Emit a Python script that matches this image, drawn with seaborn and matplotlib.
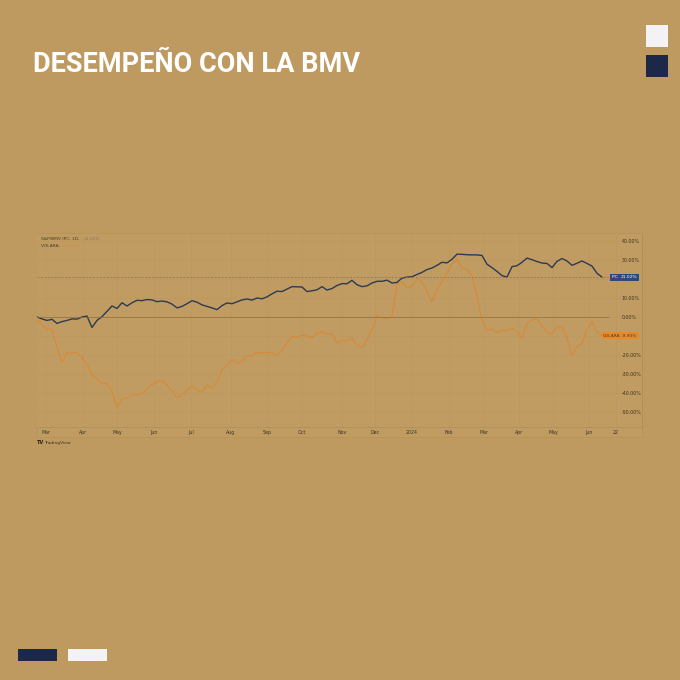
import pandas as pd
import matplotlib
matplotlib.use("Agg")
import matplotlib.pyplot as plt
import seaborn as sns
from matplotlib.patches import Rectangle

# --- colores ---
BG = "#BE9A60"
PANEL = "#C09C62"
NAVY = "#1C2847"
BLUE_LINE = "#2C3A52"
ORANGE = "#DD8630"
GRID = "#B08D55"
TXT = "#3E3322"

# --- datos (rendimiento acumulado %, muestreado del grafico) ---
ipc = [0.0, -1.0, -1.8, -1.2, -3.4, -2.4, -1.8, -1.0, -1.1, 0.0,
       0.5, -5.5, -1.8, 0.2, 3.0, 5.8, 4.5, 7.5, 5.8, 7.5,
       8.8, 8.6, 9.2, 9.0, 8.1, 8.4, 8.0, 6.8, 4.8, 5.6,
       7.0, 8.6, 7.8, 6.4, 5.6, 4.8, 3.9, 6.0, 7.4, 7.0,
       8.0, 9.0, 9.5, 8.9, 10.0, 9.6, 10.6, 12.2, 13.6, 13.4,
       14.7, 16.0, 15.9, 15.8, 13.4, 13.8, 14.3, 16.0, 14.2, 15.0,
       16.6, 17.6, 17.5, 19.3, 17.0, 16.0, 16.4, 17.9, 18.8, 18.8,
       19.4, 17.9, 18.2, 20.5, 21.0, 21.2, 22.4, 23.5, 25.0, 25.8,
       27.2, 28.8, 28.5, 30.4, 33.1, 33.0, 32.8, 32.7, 32.7, 32.4,
       27.8, 26.0, 24.0, 21.8, 21.0, 26.5, 27.0, 28.8, 31.0, 30.2,
       29.2, 28.4, 28.2, 26.0, 29.3, 30.8, 29.5, 27.2, 28.3, 29.5,
       28.2, 26.8, 23.0, 21.02]

volara = [-1.4, -4.0, -6.2, -6.5, -16.0, -24.0, -19.0, -19.1, -18.4, -21.4,
          -25.0, -30.5, -32.6, -35.1, -35.1, -39.0, -48.0, -43.0, -42.8, -41.1,
          -40.7, -40.6, -37.4, -35.6, -34.2, -33.3, -35.6, -39.0, -42.5, -40.9,
          -38.5, -36.2, -38.5, -39.6, -35.7, -37.6, -34.0, -27.6, -25.6, -22.2,
          -24.4, -23.3, -20.3, -20.6, -18.6, -19.0, -18.6, -18.7, -20.5, -17.4,
          -13.6, -10.2, -10.7, -9.6, -10.0, -10.9, -8.4, -7.7, -8.9, -9.0,
          -13.6, -12.4, -12.6, -11.3, -14.7, -16.2, -12.0, -6.4, 0.5, -0.6,
          -0.8, 0.2, 17.3, 18.5, 15.2, 16.3, 20.3, 18.6, 13.4, 7.9,
          14.7, 18.6, 23.0, 27.9, 30.3, 25.9, 25.2, 21.6, 11.0, -1.8,
          -7.0, -6.5, -8.3, -7.0, -7.0, -6.0, -7.7, -11.3, -3.3, -1.5,
          -1.3, -4.6, -8.1, -8.8, -5.3, -5.0, -11.0, -20.4, -15.4, -14.1,
          -6.3, -2.3, -7.8, -9.90]

month_pos = [1.8, 9.2, 16, 23.4, 30.8, 38.8, 46, 53, 61, 67.6,
             75, 82.4, 89.4, 96.4, 103.2, 110.4, 115.8]
month_labels = ["Mar", "Apr", "May", "Jun", "Jul", "Aug", "Sep", "Oct", "Nov", "Dec",
                "2024", "Feb", "Mar", "Apr", "May", "Jun", "22"]
y_ticks = [40, 30, 20, 10, 0, -10, -20, -30, -40, -50]
hidden_ticks = [20, -10]  # tapadas por las etiquetas de ultimo valor

df = pd.DataFrame({"sesion": range(len(ipc)), "IPC": ipc, "VOLARA": volara})

sns.set_theme(style="white")
plt.rcParams["font.family"] = ["DejaVu Sans"]

W = H = 680
fig = plt.figure(figsize=(6.8, 6.8), dpi=100, facecolor=BG)


def fx(px):
    return px / W


def fy(py):
    return 1 - py / H


def rect(x0, y0, x1, y1, color, **kw):
    fig.patches.append(Rectangle((fx(x0), fy(y1)), (x1 - x0) / W, (y1 - y0) / H,
                                 transform=fig.transFigure, facecolor=color,
                                 edgecolor=kw.pop("ec", "none"), **kw))


# titulo y adornos
fig.text(fx(33), fy(72), "DESEMPEÑO CON LA BMV", color="white", fontsize=19.5,
         fontweight="bold", ha="left", va="baseline", family=["Roboto", "DejaVu Sans"])
rect(646, 25, 668, 47, "#F3F3F5")
rect(646, 55, 668, 77, NAVY)
rect(18, 649, 57, 661, NAVY)
rect(68, 649, 107, 661, "#F3F3F5")

# panel de la captura
rect(37, 233, 642, 437, PANEL, ec="#B59258", lw=0.5, zorder=0)

ax = fig.add_axes([fx(37), fy(427), (642 - 37) / W, (427 - 234) / H])
ax.set_zorder(3)
ax.set_facecolor(PANEL)

sns.lineplot(data=df, x="sesion", y="VOLARA", color=ORANGE, linewidth=0.7, ax=ax)
sns.lineplot(data=df, x="sesion", y="IPC", color=BLUE_LINE, linewidth=1.0, ax=ax)

ax.set_xlim(0, 121)
ax.set_ylim(-57.9, 43.7)
ax.set_xticks(month_pos, month_labels)
ax.set_yticks(y_ticks, ["" if v in hidden_ticks else f"{v:.2f}%" for v in y_ticks])
ax.yaxis.tick_right()
ax.tick_params(axis="x", length=0, pad=2.5, labelsize=3.4, labelcolor=TXT)
ax.tick_params(axis="y", length=0, pad=-14.5, labelsize=3.4, labelcolor=TXT)
ax.set_xlabel("")
ax.set_ylabel("")
ax.grid(True, color=GRID, linewidth=0.4, alpha=0.3)
for side, sp in ax.spines.items():
    sp.set_color("#B08D55")
    sp.set_linewidth(0.5)
    sp.set_visible(side in ("bottom", "right"))

ax.axhline(0, xmax=0.945, color="#8E6F3D", linewidth=0.5)
ax.axhline(ipc[-1], xmax=0.945, color="#8A7450", linewidth=0.5, linestyle=(0, (3, 2)))

# etiquetas de ultimo valor
tr = ax.get_yaxis_transform()
box = dict(boxstyle="square,pad=0.35", lw=0)
ax.text(0.950, ipc[-1], "IPC", transform=tr, fontsize=3.2, color="white", va="center",
        bbox=dict(box, facecolor="#2F4A7A"), zorder=5)
ax.text(0.965, ipc[-1], f"{ipc[-1]:.2f}%", transform=tr, fontsize=3.2, color="white",
        va="center", bbox=dict(box, facecolor="#2F4A7A"), zorder=5)
ax.text(0.936, volara[-1], "VOLARA", transform=tr, fontsize=3.2, color="#5A3A10",
        va="center", bbox=dict(box, facecolor="#E8892C"), zorder=5)
ax.text(0.967, volara[-1], f"{volara[-1]:.2f}%", transform=tr, fontsize=3.2,
        color="#5A3A10", va="center", bbox=dict(box, facecolor="#E8892C"), zorder=5)

# leyenda estilo TradingView
fig.text(fx(41), fy(240), "S&P/BMV IPC, 1D, \u00b7", fontsize=3.2, color="#4A3D2A", va="baseline")
fig.text(fx(84), fy(240), f"{ipc[-1]:.2f}%", fontsize=3.2, color="#8A7A60", va="baseline")
fig.text(fx(41), fy(247), "VOLARA, \u00b7", fontsize=3.2, color="#4A3D2A", va="baseline")
fig.text(fx(64), fy(247), f"{volara[-1]:.2f}%", fontsize=3.2, color="#D88A3C", va="baseline")

fig.text(fx(37), fy(444), "TV", fontsize=3.6, fontweight="bold", color="#2A2418", va="baseline")
fig.text(fx(44), fy(444), "TradingView", fontsize=3.2, color="#3E3322", va="baseline")

fig.savefig("out.png", dpi=100, facecolor=BG)
